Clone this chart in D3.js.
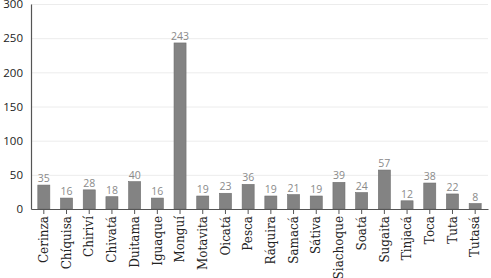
<!DOCTYPE html>
<html>
<head>
<meta charset="utf-8">
<script src="https://cdn.jsdelivr.net/npm/d3@7"></script>
<style>
  body { margin: 0; background: #fff; }
</style>
</head>
<body>
<svg id="chart" width="491" height="278"></svg>
<script>
const categories = ["Cerinza", "Chíquisa", "Chiriví", "Chivatá", "Duitama", "Iguaque", "Monguí",
  "Motavita", "Oicatá", "Pesca", "Ráquira", "Samacá", "Sátiva", "Siachoque", "Soatá",
  "Sugaita", "Tinjacá", "Toca", "Tuta", "Tutasá"];
const values = [35, 16, 28, 18, 40, 16, 243, 19, 23, 36, 19, 21, 19, 39, 24, 57, 12, 38, 22, 8];
const yTicks = [0, 50, 100, 150, 200, 250, 300];

const svg = d3.select("#chart");

// plot area
const plotLeft = 31, plotRight = 488, plotTop = 4, plotBottom = 209;

const x = d3.scaleBand()
    .domain(categories)
    .range([plotLeft, plotRight])
    .paddingInner(0.47)
    .paddingOuter(0.3);

const y = d3.scaleLinear()
    .domain([0, 300])
    .range([plotBottom, plotTop]);

// grid lines
svg.append("g")
    .selectAll("line")
    .data(yTicks.slice(1))
    .join("line")
    .attr("x1", plotLeft)
    .attr("x2", plotRight)
    .attr("y1", d => y(d) + 0.5)
    .attr("y2", d => y(d) + 0.5)
    .attr("stroke", "#ececec")
    .attr("stroke-width", 1);

// bars
svg.append("g")
    .selectAll("rect")
    .data(values)
    .join("rect")
    .attr("x", (d, i) => x(categories[i]))
    .attr("y", d => y(d))
    .attr("width", x.bandwidth())
    .attr("height", d => plotBottom - y(d))
    .attr("fill", "#838383")
    .attr("stroke", "#6e6e6e")
    .attr("stroke-width", 0.6);

// value labels
svg.append("g")
    .selectAll("text")
    .data(values)
    .join("text")
    .attr("x", (d, i) => x(categories[i]) + x.bandwidth() / 2)
    .attr("y", d => y(d) - 3)
    .attr("text-anchor", "middle")
    .attr("font-family", "Open Sans, sans-serif")
    .attr("font-size", "10.5px")
    .attr("fill", "#8a8a8a")
    .text(d => d);

// y axis
const yAxis = svg.append("g")
    .attr("transform", `translate(${plotLeft},0)`)
    .call(d3.axisLeft(y).tickValues(yTicks).tickSize(0).tickPadding(8));
yAxis.select(".domain").attr("stroke", "#555").attr("stroke-width", 1.2);
yAxis.selectAll("text")
    .attr("font-family", "Open Sans, sans-serif")
    .attr("font-size", "11.5px")
    .attr("fill", "#222");

// x axis
const xAxis = svg.append("g")
    .attr("transform", `translate(0,${plotBottom})`)
    .call(d3.axisBottom(x).tickSize(5).tickSizeOuter(0));
xAxis.select(".domain").attr("stroke", "#555").attr("stroke-width", 1.2);
xAxis.selectAll(".tick line").attr("stroke", "#555");
xAxis.selectAll("text")
    .attr("font-family", "DejaVu Serif, serif")
    .attr("font-size", "12px")
    .attr("fill", "#222")
    .attr("text-anchor", "end")
    .attr("dy", "0.35em")
    .attr("transform", "rotate(-90)")
    .attr("x", -7)
    .attr("y", 0);
</script>
</body>
</html>
